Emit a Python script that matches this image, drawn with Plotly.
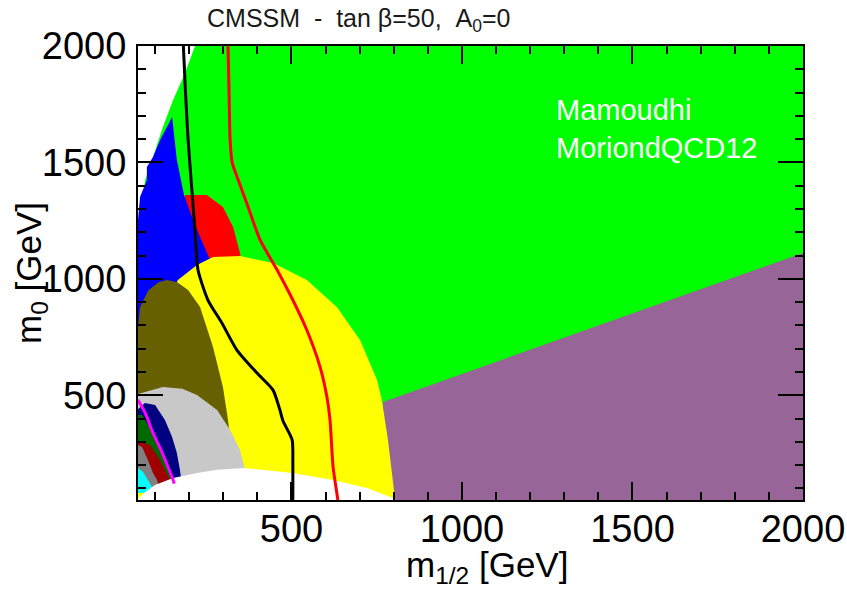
import plotly.graph_objects as go

# ---- region boundaries (m_1/2 [GeV], m_0 [GeV]) ----
green_x = [217, 2000, 2000, 50, 50, 71, 94, 123, 153, 188]
green_y = [2000, 2000, 50, 50, 1210, 1424, 1523, 1652, 1768, 1884]

purple_x = [768, 2000, 2000, 780]
purple_y = [471, 1111, 50, 50]

red_x = [188, 252, 299, 329, 349, 364, 173]
red_y = [1360, 1360, 1308, 1223, 1111, 995, 900]

blue_x = [150, 164, 185, 217, 255, 285, 285, 50, 50, 56, 76, 76, 94, 115]
blue_y = [1695, 1510, 1360, 1231, 1102, 1016, 780, 780, 1253, 1351, 1424, 1480, 1523, 1596]

yellow_x = [167, 223, 270, 349, 446, 545, 633, 701, 751, 765, 783, 798, 804, 50, 50, 100]
yellow_y = [995, 1059, 1094, 1098, 1068, 995, 879, 737, 565, 479, 308, 136, 50, 50, 600, 800]

olive_x = [50, 56, 80, 110, 135, 165, 197, 232, 270, 299, 314, 322, 50]
olive_y = [793, 879, 950, 985, 995, 985, 952, 879, 707, 535, 394, 300, 300]

lgray_x = [50, 85, 123, 180, 223, 282, 320, 349, 364, 368, 50]
lgray_y = [505, 520, 535, 528, 501, 437, 351, 265, 179, 100, 100]

navy_x = [50, 70, 100, 129, 150, 164, 173, 176, 180, 50]
navy_y = [440, 467, 458, 394, 321, 252, 179, 149, 100, 100]

dkgreen_x = [50, 62, 94, 120, 138, 153, 160, 50]
dkgreen_y = [415, 415, 338, 256, 192, 136, 100, 100]

dkred_x = [50, 65, 85, 109, 129, 144, 150, 50]
dkred_y = [299, 295, 286, 235, 179, 136, 100, 100]

dkgray_x = [50, 62, 79, 94, 106, 112, 50]
dkgray_y = [286, 278, 222, 166, 136, 100, 100]

cyan_x = [50, 65, 79, 91, 95, 50]
cyan_y = [187, 170, 136, 106, 80, 80]

white_x = [50, 56, 71, 100, 153, 223, 282, 364, 504, 622, 721, 798, 806, 806, 50]
white_y = [55, 63, 84, 114, 144, 166, 180, 187, 166, 136, 102, 59, 50, 30, 30]

magenta_x = [50, 71, 94, 120, 138, 153, 156]
magenta_y = [479, 424, 338, 256, 192, 136, 120]

black_x = [183, 190, 197, 208, 217, 226, 255, 296, 340, 399, 446, 466, 475, 502, 504, 504]
black_y = [2000, 1780, 1596, 1381, 1210, 1038, 909, 810, 694, 595, 522, 437, 390, 308, 200, 50]

redline_x = [314, 317, 320, 326, 345, 370, 408, 458, 504, 545, 584, 604, 613, 622, 633, 636]
redline_y = [2000, 1800, 1600, 1500, 1420, 1320, 1167, 1038, 909, 780, 621, 492, 394, 192, 80, 50]

x_ticks = [500, 1000, 1500, 2000]
y_ticks = [500, 1000, 1500, 2000]

fills = [
    (green_x, green_y, "#00ff00"),
    (purple_x, purple_y, "#976597"),
    (red_x, red_y, "#ff0000"),
    (blue_x, blue_y, "#0000ff"),
    (yellow_x, yellow_y, "#ffff00"),
    (olive_x, olive_y, "#666000"),
    (lgray_x, lgray_y, "#c8c8c8"),
    (navy_x, navy_y, "#000080"),
    (dkgreen_x, dkgreen_y, "#006a00"),
    (dkred_x, dkred_y, "#a00000"),
    (dkgray_x, dkgray_y, "#808080"),
    (cyan_x, cyan_y, "#00ffff"),
    (white_x, white_y, "#ffffff"),
]

fig = go.Figure()
for xs, ys, col in fills:
    fig.add_trace(go.Scatter(x=xs, y=ys, mode="lines", fill="toself",
                             fillcolor=col, line=dict(width=0, color=col),
                             hoverinfo="skip", showlegend=False))

for xs, ys, col in [(magenta_x, magenta_y, "#ff00ff"),
                    (black_x, black_y, "#000000"),
                    (redline_x, redline_y, "#ff0000")]:
    fig.add_trace(go.Scatter(x=xs, y=ys, mode="lines",
                             line=dict(width=3, color=col, shape="spline", smoothing=0.6),
                             hoverinfo="skip", showlegend=False))

tickfont = dict(family="Liberation Sans, Arial", size=38, color="black")

fig.update_xaxes(range=[50, 2000], tickvals=x_ticks, ticks="inside", ticklen=18,
                 tickwidth=2, tickcolor="black", showline=True, linecolor="black",
                 linewidth=2, mirror="ticks", showgrid=False, zeroline=False,
                 tickfont=tickfont, ticklabelstandoff=-6, automargin=False,
                 minor=dict(dtick=100, tick0=0, ticks="inside", ticklen=8,
                            tickwidth=2, tickcolor="black", showgrid=False))
fig.update_yaxes(range=[50, 2000], tickvals=y_ticks, ticks="inside", ticklen=25,
                 tickwidth=2, tickcolor="black", showline=True, linecolor="black",
                 linewidth=2, mirror="ticks", showgrid=False, zeroline=False,
                 tickfont=tickfont, ticklabelstandoff=2, automargin=False,
                 minor=dict(dtick=100, tick0=0, ticks="inside", ticklen=8,
                            tickwidth=2, tickcolor="black", showgrid=False))

L, R, T, B = 138, 44, 46, 90
W, H = 847, 590
pw, ph = W - L - R, H - T - B

def px(xp):
    return (xp - L) / pw

def py(yp):
    return (H - B - yp) / ph

labfont = dict(family="Liberation Sans, Arial", size=35, color="black")
nb = "\u00a0"
fig.update_layout(
    width=W, height=H,
    margin=dict(l=L, r=R, t=T, b=B),
    paper_bgcolor="white", plot_bgcolor="white",
    annotations=[
        dict(text=f"CMSSM{nb}{nb}-{nb}{nb}tan{nb}\u03b2=50,{nb}{nb}A<sub>0</sub>=0",
             xref="paper", yref="paper", x=px(358), y=py(20), xanchor="center",
             yanchor="middle", showarrow=False,
             font=dict(family="Liberation Sans, Arial", size=25, color="#1a1a1a")),
        dict(text="m<sub>1/2</sub> [GeV]", xref="paper", yref="paper",
             x=px(487), y=py(567), xanchor="center", yanchor="middle",
             showarrow=False, font=labfont),
        dict(text="m<sub>0</sub> [GeV]", xref="paper", yref="paper",
             x=px(31), y=py(273), xanchor="center", yanchor="middle",
             textangle=-90, showarrow=False, font=labfont),
        dict(text="Mamoudhi<br>MoriondQCD12", xref="paper", yref="paper",
             x=px(554), y=py(92), xanchor="left", yanchor="top", align="left",
             showarrow=False,
             font=dict(family="Liberation Sans, Arial", size=29, color="white")),
    ],
)

fig.write_html("out.html")
